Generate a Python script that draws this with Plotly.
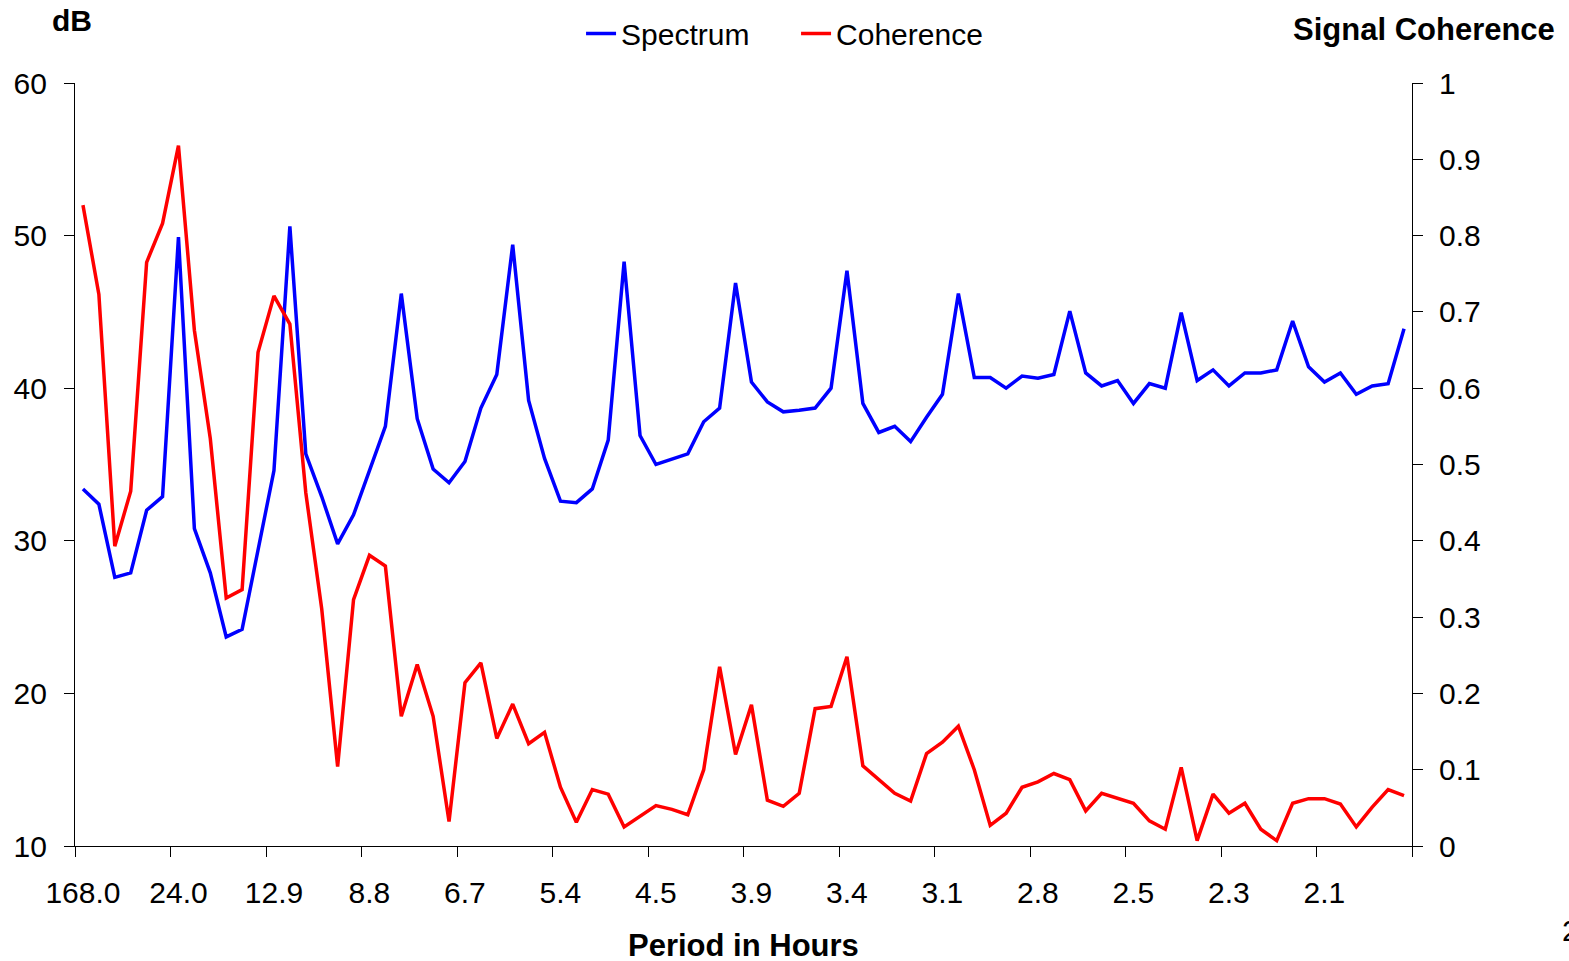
import plotly.graph_objects as go

# Frequency band index (one point per band, period = 168 h / band)
band = list(range(1, 85))

# Spectrum level in dB (left axis)
spectrum_db = [
    33.4, 32.4, 27.6, 27.9, 32.0, 32.9, 49.9, 30.8, 27.9, 23.7,
    24.2, 29.5, 34.6, 50.6, 35.7, 32.9, 29.8, 31.7, 34.6, 37.5,
    46.2, 38.0, 34.7, 33.8, 35.2, 38.7, 40.9, 49.4, 39.2, 35.4,
    32.6, 32.5, 33.4, 36.6, 48.3, 36.9, 35.0, 35.35, 35.7, 37.8,
    38.7, 46.9, 40.4, 39.1, 38.45, 38.55, 38.7, 40.0, 47.7, 39.0,
    37.1, 37.5, 36.5, 38.1, 39.6, 46.2, 40.7, 40.7, 40.0, 40.8,
    40.65, 40.9, 45.05, 41.0, 40.15, 40.5, 39.0, 40.3, 40.0, 44.95,
    40.5, 41.2, 40.15, 41.0, 41.0, 41.2, 44.4, 41.4, 40.4, 41.0,
    39.6, 40.15, 40.3, 43.9,
]

# Signal coherence (right axis)
coherence = [
    0.840, 0.723, 0.393, 0.465, 0.765, 0.816, 0.918, 0.676, 0.534, 0.325,
    0.336, 0.647, 0.721, 0.684, 0.463, 0.311, 0.104, 0.323, 0.381, 0.367,
    0.170, 0.238, 0.170, 0.032, 0.214, 0.240, 0.141, 0.186, 0.134, 0.149,
    0.077, 0.031, 0.074, 0.068, 0.025, 0.039, 0.053, 0.048, 0.041, 0.100,
    0.235, 0.120, 0.185, 0.060, 0.052, 0.069, 0.180, 0.183, 0.248, 0.105,
    0.087, 0.069, 0.059, 0.121, 0.136, 0.157, 0.100, 0.027, 0.043, 0.077,
    0.084, 0.095, 0.087, 0.046, 0.069, 0.063, 0.056, 0.033, 0.022, 0.103,
    0.007, 0.068, 0.043, 0.056, 0.022, 0.007, 0.056, 0.062, 0.062, 0.055,
    0.025, 0.051, 0.074, 0.066,
]

# Period labels (hours) shown every sixth band
label_bands = [1, 7, 13, 19, 25, 31, 37, 43, 49, 55, 61, 67, 73, 79]
period_labels = ["168.0", "24.0", "12.9", "8.8", "6.7", "5.4", "4.5",
                 "3.9", "3.4", "3.1", "2.8", "2.5", "2.3", "2.1"]
# Tick marks sit on the band boundaries between label groups
boundary_ticks = [b - 0.5 for b in label_bands] + [84.5]

FONT = "Liberation Sans, Arial, sans-serif"

fig = go.Figure()
fig.add_trace(go.Scatter(
    x=band, y=spectrum_db, name="Spectrum", mode="lines",
    line=dict(color="#0000FF", width=3.5), yaxis="y",
))
fig.add_trace(go.Scatter(
    x=band, y=coherence, name="Coherence", mode="lines",
    line=dict(color="#FF0000", width=3.5), yaxis="y2",
))

fig.update_layout(
    width=1569, height=961,
    margin=dict(l=75, r=157, t=83, b=115, pad=0, autoexpand=False),
    paper_bgcolor="white", plot_bgcolor="white",
    font=dict(family=FONT, size=30, color="black"),
    showlegend=True,
    legend=dict(
        orientation="h", x=0.3785, xanchor="left", y=1.065, yanchor="middle",
        font=dict(size=30), bgcolor="rgba(0,0,0,0)",
        entrywidth=170, entrywidthmode="pixels", tracegroupgap=0,
    ),
    xaxis=dict(
        range=[0.5, 84.5], tickmode="array", tickvals=label_bands,
        ticktext=period_labels, ticks="", showgrid=False, zeroline=False,
        showline=True, linecolor="black", linewidth=1.2,
        tickfont=dict(size=30), ticklabelstandoff=20,
        minor=dict(tickmode="array", tickvals=boundary_ticks, ticks="outside",
                   ticklen=10, tickcolor="black", tickwidth=1.2, showgrid=False),
    ),
    yaxis=dict(
        range=[10, 60], dtick=10, tick0=10, ticks="outside", ticklen=10,
        tickcolor="black", tickwidth=1.2, showgrid=False, zeroline=False,
        showline=True, linecolor="black", linewidth=1.2,
        tickfont=dict(size=30), ticklabelstandoff=11,
    ),
    yaxis2=dict(
        range=[0, 1], dtick=0.1, tick0=0, overlaying="y", side="right",
        anchor="x", ticks="outside", ticklen=10, tickcolor="black",
        tickwidth=1.2, showgrid=False, zeroline=False, showline=True,
        linecolor="black", linewidth=1.2, tickfont=dict(size=30),
        ticklabelstandoff=10,
    ),
    yaxis3=dict(
        range=[0, 1], dtick=0.1, tick0=0, overlaying="y", side="right",
        anchor="x", ticks="inside", ticklen=10, tickcolor="black",
        tickwidth=1.2, showgrid=False, zeroline=False, showline=False,
        showticklabels=False,
    ),
    annotations=[
        dict(text="<b>dB</b>", xref="paper", yref="paper", x=-0.019, y=1.082,
             xanchor="left", yanchor="middle", showarrow=False,
             font=dict(size=30)),
        dict(text="<b>Signal Coherence</b>", xref="paper", yref="paper",
             x=1.1085, y=1.070, xanchor="right", yanchor="middle",
             showarrow=False, font=dict(size=31)),
        dict(text="<b>Period in Hours</b>", xref="paper", yref="paper",
             x=0.5, y=-0.131, xanchor="center", yanchor="middle",
             showarrow=False, font=dict(size=31)),
        dict(text="2", xref="paper", yref="paper", x=1.111, y=-0.111,
             xanchor="left", yanchor="middle", showarrow=False,
             font=dict(size=30)),
    ],
)

fig.write_html("out.html")
